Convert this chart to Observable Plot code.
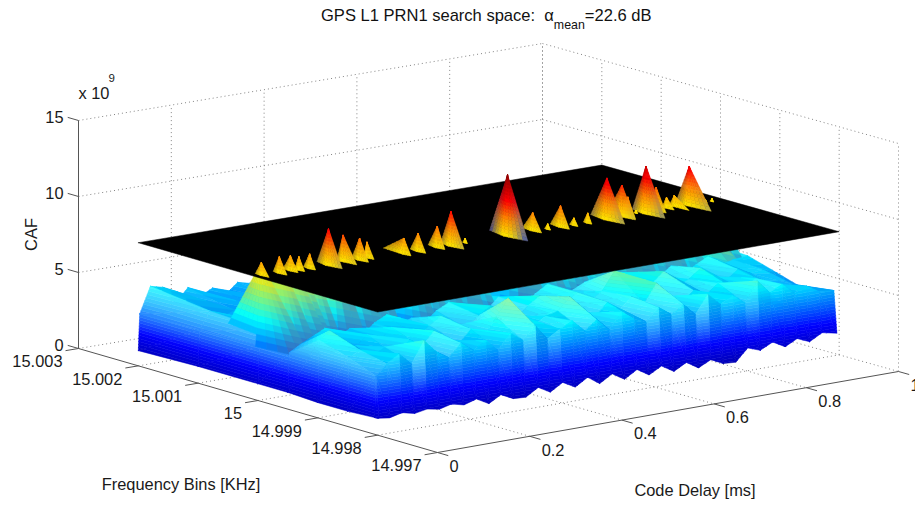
<!DOCTYPE html>
<html>
<head>
<meta charset="utf-8">
<script src="https://cdn.jsdelivr.net/npm/d3@7"></script>
<script src="https://cdn.jsdelivr.net/npm/@observablehq/plot@0.6"></script>
<style>
html,body{margin:0;padding:0;background:#fff;overflow:hidden}
#title{height:32px;box-sizing:border-box;padding:6px 0 0 321px;font:16.55px/20px "Liberation Sans",Arial,sans-serif;color:#111;white-space:pre}
#title .m{font-size:12.4px;position:relative;top:8px}
svg{display:block}
</style>
</head>
<body>
<div id="title"></div>
<div id="chart"></div>
<script>
// ---------- axis values ----------
const titleMain = "GPS L1 PRN1 search space:  ";
const titleAlpha = "α";
const titleSub = "mean";
const titleEnd = "=22.6 dB";
const delayTicks = [0, 0.2, 0.4, 0.6, 0.8, 1];
const freqTicks = [15.003, 15.002, 15.001, 15, 14.999, 14.998, 14.997];
const cafTicks = [0, 5, 10, 15];
const planeCAF = 8.1; // detection threshold plane, x 10^9

// ---------- surface, CAF x 10^9 ----------
const delayGrid = [0,.003,.026,.053,.08,.107,.134,.16,.187,.214,.241,.267,.294,.321,.348,.374,.401,.428,.455,.481,.508,.535,.562,.588,.615,.642,.669,.695,.722,.749,.776,.802,.829,.856,.883,.909,.936,.963,.995];
const freqGrid = [15.002, 15.001, 15, 14.9995, 14.999, 14.9985, 14.99805, 14.998];
const cafRow0 = [1.0,3.4,5.1,4.9,3.7,4.6,3.9,4.3,3.7,4.4,4.2,3.9,4.3,4.6,4.0,4.4,3.8,4.2,4.7,4.0,4.3,3.9,4.5,4.1,4.4,3.8,4.2,4.6,4.0,4.3,4.5,3.9,4.4,4.1,4.6,4.0,4.3,4.5,4.2];
const cafRow1 = [1.1,3.5,4.6,4.1,4.4,3.8,4.3,4.0,4.5,3.9,4.2,4.6,4.1,3.8,4.4,4.0,4.7,4.2,3.9,4.5,4.1,4.3,4.8,4.0,4.2,4.6,3.9,4.4,4.7,4.1,4.3,4.0,4.6,4.2,4.4,4.8,4.1,4.3,4.4];
const cafRow2 = [1.1,3.6,4.4,4.7,4.2,4.6,4.0,4.5,4.8,4.2,4.4,3.9,4.6,4.3,4.8,4.1,4.5,4.9,4.2,4.4,4.7,4.0,4.6,4.3,4.9,4.2,4.5,4.8,4.1,4.6,4.4,4.9,4.3,4.7,4.2,4.8,4.4,4.6,5.0];
const cafRow3 = [1.1,3.7,4.1,4.5,4.9,4.2,4.6,4.0,4.7,5.1,4.3,4.6,4.1,4.8,5.2,4.4,4.7,4.2,5.0,4.5,4.1,4.8,5.3,4.4,4.6,5.0,4.2,4.7,5.2,4.3,4.8,4.5,5.1,4.4,4.9,5.3,4.6,4.8,4.9];
const cafRow4 = [1.0,5.1,5.6,4.5,4.2,4.9,4.4,5.1,4.6,4.1,4.8,5.3,4.5,4.2,4.9,5.4,4.6,4.3,5.0,5.5,4.4,4.8,5.3,4.6,5.1,6.3,5.3,4.7,5.0,5.7,4.5,4.9,5.5,4.8,4.4,5.0,4.6,4.7,4.3];
const cafRow5 = [1.0,4.5,4.9,4.3,4.8,4.1,5.0,4.4,5.3,4.5,4.2,5.0,4.3,5.5,6.6,5.3,4.5,5.0,5.2,6.0,4.8,4.4,5.2,4.6,5.3,4.7,5.9,4.9,4.3,5.0,4.6,5.2,4.8,4.5,5.1,4.6,4.2,4.3,3.7];
const cafRow6 = [1.1,3.8,4.5,5.0,4.2,5.6,4.7,4.2,5.0,4.4,4.9,4.1,5.1,4.5,5.3,4.3,4.8,5.2,4.4,5.0,4.2,5.2,4.6,4.3,5.1,4.5,5.0,4.2,5.4,4.6,5.0,4.4,5.7,4.8,5.2,4.5,4.8,4.3,4.2];
const cafRow7 = [1.1,1.1,1.0,1.2,1.0,1.15,1.0,1.2,1.0,1.25,.8,1.25,.85,.8,1.3,.85,1.35,.9,1.4,.85,1.35,.85,1.35,.85,1.3,.8,1.25,.75,1.15,.75,.7,1.5,1.2,1.6,1.15,1.55,1.2,1.65,1.45];
const cafRows = [cafRow0, cafRow1, cafRow2, cafRow3, cafRow4, cafRow5, cafRow6, cafRow7];

// ---------- correlation peaks along the 15 kHz bin ----------
const peakDelay = [.015,.05,.0765,.091,.113,.155,.193,.221,.242,.309,.341,.385,.412,.444,.537,.594,.62,.649,.674,.704,.748,.783,.788,.816,.83,.857,.882,.9,.926,.961,.974];
const peakFreq = [15.00006,15.00003,15.00005,15.00002,15.00001,15.00002,15.00007,15.00001,15.00005,14.99995,14.99996,14.99998,14.99996,14.99997,14.99998,15,14.99995,14.99996,14.99993,14.99993,14.99995,14.99997,14.99991,14.99999,14.99993,14.99997,14.99999,15,14.99995,14.99995,14.99994];
const peakCAF = [8.94,9.17,9.08,8.97,9.05,10.47,9.81,9.53,9.12,9.13,9.28,9.49,10.35,8.4,12.09,9.27,8.46,9.49,8.59,8.76,10.81,10.14,9.4,8.3,11.18,9.61,8.8,8.82,10.65,8.3,8.3];
const peakWidthBack = [.0001,.0001,.00012,.00007,.0001,.00019,.0001,.00013,.00005,.00034,.00013,.00015,.00017,.00004,.0003,.00017,.00005,.00017,.00007,.00007,.00027,.00024,.00012,.00003,.00023,.00012,.00007,.00008,.00022,.00003,.00003];
const peakWidthFront = [.00013,.00013,.00013,.0001,.0001,.00023,.00023,.00015,.00012,.00012,.00013,.00013,.00022,.00004,.00034,.00015,.00005,.00015,.00007,.00007,.0003,.00023,.00013,.00003,.00032,.00017,.00013,.00025,.00037,.00003,.00003];

// ---------- 3-D view ----------
const corner = {x: [78, 437, 898, 542], y: [348, 452, 371, 271]};
const cafPixels = 15.2;
function bilinear(c, d, f) {
  return (1-d)*(1-f)*c[0] + (1-d)*f*c[1] + d*f*c[2] + d*(1-f)*c[3];
}
function project(delay, freq, caf) {
  const f = (15.003 - freq) / 0.006;
  return [bilinear(corner.x, delay, f), bilinear(corner.y, delay, f) - caf * cafPixels];
}

const jet = d3.scaleLinear()
  .domain([0, 2.2, 5.2, 8.1, 9.2, 10.4, 12.4])
  .range(["#00008f", "#0000ff", "#00ffff", "#ffe800", "#ff8c00", "#ff0000", "#7a0000"])
  .clamp(true);
const mix = (a, b, m) => d3.interpolateRgb(a, b)(Math.max(0, Math.min(1, m)));

// ---------- polygon builders ----------
let nextId = 0;
function pushPoly(out, pts, color) {
  const id = nextId++;
  for (const p of [...pts, pts[0]]) {
    const [x, y] = project(p[0], p[1], p[2]);
    out.push({x, y, id, c: color});
  }
}
function clipBand(tri, lo, hi) {
  const clip = (poly, inside, level) => {
    const res = [];
    for (let i = 0; i < poly.length; i++) {
      const a = poly[i], b = poly[(i+1) % poly.length];
      const ia = inside(a[2]), ib = inside(b[2]);
      if (ia) res.push(a);
      if (ia !== ib) {
        const t = (level - a[2]) / (b[2] - a[2]);
        res.push([a[0]+t*(b[0]-a[0]), a[1]+t*(b[1]-a[1]), level]);
      }
    }
    return res;
  };
  let p = clip(tri, z => z >= lo, lo);
  if (p.length) p = clip(p, z => z <= hi, hi);
  return p;
}
function surfaceStrip(out, r) {
  const step = 0.2;
  for (let c = delayGrid.length - 2; c >= 0; c--) {
    const P = (ri, ci) => [delayGrid[ci], freqGrid[ri], cafRows[ri][ci]];
    const a = P(r, c), b = P(r, c+1), e = P(r+1, c+1), g = P(r+1, c);
    const slope = ((b[2]-a[2]) + (e[2]-g[2])) / 2;
    for (const tri of [[a, b, e], [a, e, g]]) {
      const zs = tri.map(p => p[2]);
      const lo = Math.floor(d3.min(zs)/step)*step, hi = d3.max(zs);
      for (let l = lo; l < hi; l += step) {
        const poly = clipBand(tri, l, l+step);
        if (poly.length < 3) continue;
        const zm = l + step/2;
        const k = Math.max(0, Math.min(1, (zm - 2) / 2.2));
        let col = jet(zm);
        col = slope > 0 ? mix(col, "#c8ffff", Math.min(.3, slope*.4)*k)
                        : mix(col, "#0070e0", Math.min(.45, -slope*.6)*k);
        pushPoly(out, poly, col);
      }
    }
  }
}

function finPolys(i, lower, upper) {
  const zp = peakCAF[i], d = peakDelay[i], f0 = peakFreq[i], zb = 3.5;
  const grow = (zp - zb) / (zp - planeCAF);
  const backF = f0 + peakWidthBack[i] * grow, frontF = f0 - peakWidthFront[i] * grow;
  const nose = [Math.max(0, d - 0.02), f0 - 0.00002, zb];
  const baseAt = u => {
    const t = Math.abs(u);
    const end = u < 0 ? [d, backF, zb] : [d, frontF, zb];
    return [nose[0]+(end[0]-nose[0])*t, nose[1]+(end[1]-nose[1])*t, zb];
  };
  const rays = 10;
  const levels = [];
  for (let z = zb; z < planeCAF - 1e-6; z += 0.4) levels.push(z);
  for (let z = planeCAF; z < zp - 1e-6; z += 0.22) levels.push(z);
  levels.push(zp);
  const at = (u, z) => {
    const v = (zp - z) / (zp - zb), b = baseAt(u);
    return [d+(b[0]-d)*v, f0+(b[1]-f0)*v, z];
  };
  for (let j = levels.length - 2; j >= 0; j--) {
    const zl = levels[j], zh = levels[j+1], zm = (zl+zh)/2;
    for (let r = 0; r < rays; r++) {
      const u0 = -1 + 2*r/rays, u1 = -1 + 2*(r+1)/rays, um = (u0+u1)/2;
      if (um < 0 && zh < 4.4) continue;
      const s = Math.min(1, Math.abs(um) * (zp - zm) / 3.5);
      let fade = 0.95 * s * s;
      if (zm < planeCAF) fade *= um < 0 ? Math.max(0, (zm - 6) / 2.1) : 0.6;
      let col = mix(jet(zm), "#56609c", fade);
      if (um < -0.2 && zm >= planeCAF) col = mix(col, "#40101c", 0.28 * Math.abs(um));
      pushPoly(zl >= planeCAF - 1e-6 ? upper : lower, [at(u0,zl), at(u1,zl), at(u1,zh), at(u0,zh)], col);
    }
  }
}

// draw order: far rows, ridge fins (far to near), near rows, plane, tips
const farSurface = [], nearSurface = [], finLower = [], finUpper = [];
for (let r = 0; r < 3; r++) surfaceStrip(farSurface, r);
for (let i = peakDelay.length - 1; i >= 0; i--) finPolys(i, finLower, finUpper);
for (let r = 3; r < freqGrid.length - 1; r++) surfaceStrip(nearSurface, r);

const planeRing = [[0, 15.002], [1, 15.002], [1, 14.998], [0, 14.998], [0, 15.002]]
  .map(([d, f]) => { const [x, y] = project(d, f, planeCAF); return {x, y}; });

// ---------- grid and axes ----------
const seg = (a, b) => {
  const p = project(...a), q = project(...b);
  return {x1: p[0], y1: p[1], x2: q[0], y2: q[1]};
};
const [fBack, fFront] = [15.003, 14.997];
const gridLines = [
  ...cafTicks.map(z => seg([0, fBack, z], [1, fBack, z])),
  ...cafTicks.map(z => seg([1, fBack, z], [1, fFront, z])),
  ...delayTicks.slice(1).map(d => seg([d, fBack, 0], [d, fBack, 15])),
  ...freqTicks.map(f => seg([1, f, 0], [1, f, 15])),
  ...freqTicks.slice(1, -1).map(f => seg([0, f, 0], [1, f, 0])),
  ...delayTicks.slice(1, -1).map(d => seg([d, fBack, 0], [d, fFront, 0]))
];
const axisLines = [
  seg([0, fBack, 0], [0, fFront, 0]),
  seg([0, fFront, 0], [1, fFront, 0]),
  seg([0, fBack, 0], [0, fBack, 15])
];
const tickLines = [
  ...cafTicks.map(z => seg([0, fBack, z], [0, fBack + .00018, z])),
  ...freqTicks.map(f => seg([0, f, 0], [-.028, f, 0])),
  ...delayTicks.map(d => seg([d, fFront, 0], [d, fFront - .00018, 0]))
];
const label = (text, p) => { const [x, y] = project(...p); return {text, x, y}; };
const freqLabels = freqTicks.map(f => label(String(f), [0, f, 0]));
const delayLabels = delayTicks.map(d => label(String(d), [d, fFront, 0]));
const cafLabels = cafTicks.map(z => label(String(z), [0, fBack, z]));

const polyMark = data => Plot.line(data, {x: "x", y: "y", z: "id", fill: "c", stroke: "c", strokeWidth: 0.5, curve: "linear"});
const ink = "#1a1a1a";

document.getElementById("title").innerHTML =
  titleMain + '<span>' + titleAlpha + '</span><span class="m">' + titleSub + '</span>' + titleEnd;

const plot = Plot.plot({
  width: 915, height: 475,
  marginTop: 0, marginRight: 0, marginBottom: 0, marginLeft: 0,
  x: {domain: [0, 915], range: [0, 915], axis: null},
  y: {domain: [32, 507], range: [0, 475], axis: null},
  color: {type: "identity"},
  style: {fontFamily: '"Liberation Sans", Arial, sans-serif', fontSize: "16.4px", background: "#fff"},
  marks: [
    Plot.link(gridLines, {x1: "x1", y1: "y1", x2: "x2", y2: "y2", stroke: "#858585", strokeWidth: 1, strokeDasharray: "1,3"}),
    Plot.link(axisLines, {x1: "x1", y1: "y1", x2: "x2", y2: "y2", stroke: "#555", strokeWidth: 1}),
    Plot.link(tickLines, {x1: "x1", y1: "y1", x2: "x2", y2: "y2", stroke: "#555", strokeWidth: 1}),
    polyMark(farSurface),
    polyMark(finLower),
    polyMark(nearSurface),
    Plot.line(planeRing, {x: "x", y: "y", fill: "#000", stroke: "#000", strokeWidth: 0.5}),
    polyMark(finUpper),
    Plot.text(freqLabels, {x: "x", y: "y", text: "text", textAnchor: "end", dx: -16, dy: 13.5, fill: ink}),
    Plot.text(delayLabels, {x: "x", y: "y", text: "text", textAnchor: "start", dx: 12, dy: 14, fill: ink}),
    Plot.text(cafLabels, {x: "x", y: "y", text: "text", textAnchor: "end", dx: -15, dy: -3, fill: ink}),
    Plot.text([label("Frequency Bins [KHz]", [0, 15, 0])], {x: "x", y: "y", text: "text", dx: -77, dy: 84, fill: ink}),
    Plot.text([label("Code Delay [ms]", [.5, fFront, 0])], {x: "x", y: "y", text: "text", dx: 27, dy: 79, fill: ink}),
    Plot.text([label("CAF", [0, fBack, 7.5])], {x: "x", y: "y", text: "text", dx: -47, dy: 0, rotate: -90, fill: ink}),
    Plot.text([label("x 10", [0, fBack, 15])], {x: "x", y: "y", text: "text", textAnchor: "start", dx: 0, dy: -27, fill: ink}),
    Plot.text([label("9", [0, fBack, 15])], {x: "x", y: "y", text: "text", textAnchor: "start", dx: 30, dy: -42, fontSize: 11.5, fill: ink})
  ]
});
document.getElementById("chart").appendChild(plot);
</script>
</body>
</html>
